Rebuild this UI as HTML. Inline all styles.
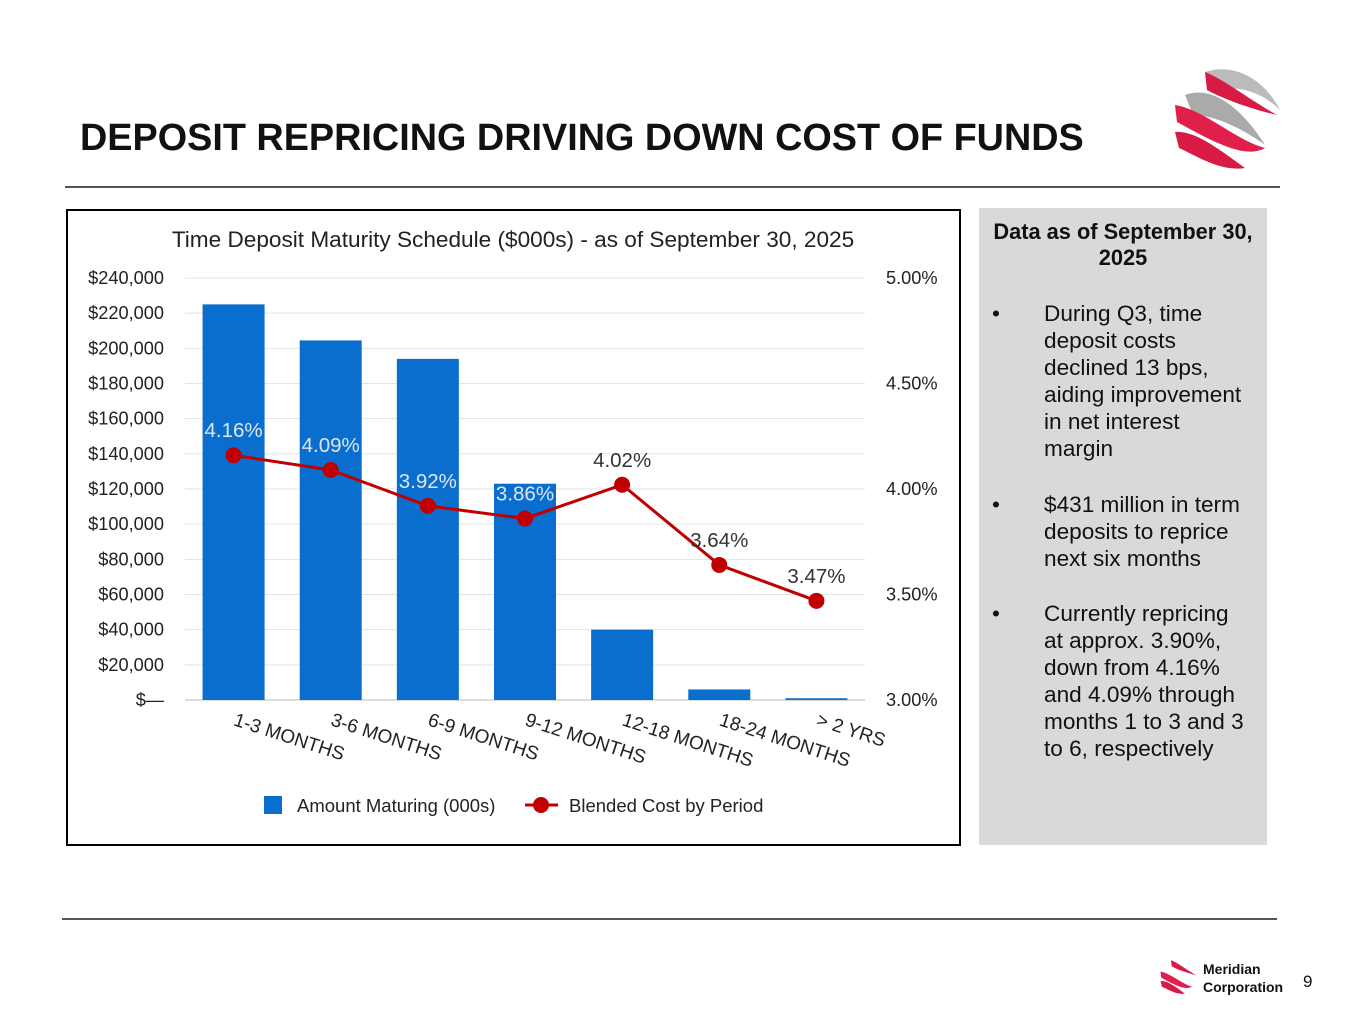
<!DOCTYPE html>
<html><head><meta charset="utf-8"><style>
body{margin:0;width:1365px;height:1024px;background:#fff;font-family:"Liberation Sans",Arial,sans-serif;position:relative;overflow:hidden}
.abs{position:absolute}
.b{position:absolute;left:13px;width:270px;line-height:27px;font-size:22.6px}
.b span{position:absolute;left:0}
.b div{margin-left:52px;width:208px}
</style></head><body>
<div class="abs" style="left:80px;top:117px;font-size:37.8px;font-weight:bold;color:#111">DEPOSIT REPRICING DRIVING DOWN COST OF FUNDS</div>
<svg class="abs" style="left:1165px;top:60px" width="120" height="115" viewBox="0 0 120 115">
<path d="M40 12 C70 2,100 20,115 50 C95 30,70 25,50 30 Z" fill="#bbb"/>
<path d="M40 12 C60 20,85 40,112 55 C90 50,60 40,42 30 Z" fill="#d81b45"/>
<path d="M20 35 C45 25,75 45,100 85 C80 70,50 55,28 55 Z" fill="#aaa"/>
<path d="M10 45 C40 50,70 80,100 88 C80 100,45 80,12 62 Z" fill="#e0204a"/>
<path d="M10 72 C30 70,55 90,80 108 C55 112,30 95,14 88 Z" fill="#d81b45"/>
</svg>
<div class="abs" style="left:65px;top:186px;width:1215px;height:2px;background:#555"></div>
<div class="abs" style="left:66px;top:209px;width:891px;height:633px;border:2px solid #000"></div>
<div class="abs" style="left:979px;top:208px;width:288px;height:637px;background:#d9d9d9;font-size:21px;color:#111">
<div style="text-align:center;font-weight:bold;margin-top:11px;line-height:26px;font-size:21.8px">Data as of September 30,<br>2025</div>
<div class="b" style="top:92px"><span>•</span><div>During Q3, time deposit costs declined 13 bps, aiding improvement in net interest margin</div></div>
<div class="b" style="top:283px"><span>•</span><div>$431 million in term deposits to reprice next six months</div></div>
<div class="b" style="top:392px"><span>•</span><div>Currently repricing at approx. 3.90%, down from 4.16% and 4.09% through months 1 to 3 and 3 to 6, respectively</div></div>
</div>
<div class="abs" style="left:62px;top:918px;width:1215px;height:2px;background:#555"></div>
<svg class="abs" style="left:1157px;top:955px" width="42" height="42" viewBox="0 0 120 115">
<path d="M40 12 C60 20,85 40,112 55 C90 50,60 40,42 30 Z" fill="#d81b45"/>
<path d="M10 45 C40 50,70 80,100 88 C80 100,45 80,12 62 Z" fill="#e0204a"/>
<path d="M10 72 C30 70,55 90,80 108 C55 112,30 95,14 88 Z" fill="#d81b45"/>
</svg>
<div class="abs" style="left:1203px;top:960px;font-size:14px;font-weight:bold;line-height:18px;color:#111">Meridian<br>Corporation</div>
<div class="abs" style="left:1303px;top:972px;font-size:17px;color:#111">9</div>
<svg class="abs" id="chart" style="left:0;top:0" width="1365" height="1024"></svg>
<script>
const categories=["1-3 MONTHS","3-6 MONTHS","6-9 MONTHS","9-12 MONTHS","12-18 MONTHS","18-24 MONTHS","> 2 YRS"];
const amounts=[225000,204500,194000,123000,40000,6000,1000];
const rates=[4.16,4.09,3.92,3.86,4.02,3.64,3.47];
const leftTicks=[0,20000,40000,60000,80000,100000,120000,140000,160000,180000,200000,220000,240000];
const rightTicks=[3.0,3.5,4.0,4.5,5.0];
const NS="http://www.w3.org/2000/svg";
const svg=document.getElementById('chart');
const x0=185,x1=865,yb=700,yt=278;
const yL=v=>yb-(v/240000)*(yb-yt);
const yR=v=>yb-((v-3)/2)*(yb-yt);
const bw=(x1-x0)/categories.length;
const xc=i=>x0+bw*(i+0.5);
function mk(t,a,txt){const e=document.createElementNS(NS,t);for(const k in a)e.setAttribute(k,a[k]);if(txt!=null)e.textContent=txt;svg.appendChild(e);return e;}
let e=mk('text',{x:513,y:247,'font-size':22.6,'text-anchor':'middle',fill:'#222','font-family':'Liberation Sans'},'Time Deposit Maturity Schedule ($000s) - as of September 30, 2025');

leftTicks.forEach(v=>{
 const g=mk('line',{x1:x0,x2:x1,y1:yL(v),y2:yL(v),stroke:v===0?'#bbb':'#e3e3e3','stroke-width':1});
 
 const t=mk('text',{x:164,y:yL(v)+6,'font-size':18.2,'text-anchor':'end',fill:'#222','font-family':'Liberation Sans'},v===0?'$—':'$'+v.toLocaleString('en-US'));
 
});
rightTicks.forEach(v=>{
 const t=mk('text',{x:886,y:yR(v)+6,'font-size':18.2,fill:'#222','font-family':'Liberation Sans'},v.toFixed(2)+'%');
 
});
amounts.forEach((v,i)=>{
 const r=mk('rect',{x:xc(i)-31,y:yL(v),width:62,height:yb-yL(v),fill:'#0a6ece'});
 
});
categories.forEach((c,i)=>{
 const t=mk('text',{x:0,y:0,'font-size':19,fill:'#222','font-family':'Liberation Sans',transform:`translate(${xc(i)-1},${725}) rotate(18)`},c);
 
});
const pts=rates.map((v,i)=>xc(i)+','+yR(v)).join(' ');
const pl=mk('polyline',{points:pts,fill:'none',stroke:'#c00000','stroke-width':3});

rates.forEach((v,i)=>{
 const c=mk('circle',{cx:xc(i),cy:yR(v),r:8,fill:'#c00000'});
 
 const inBar=yR(v)-18>yL(amounts[i]);
 const t=mk('text',{x:xc(i),y:yR(v)-18,'font-size':20.5,'text-anchor':'middle',fill:inBar?'#dfe6ee':'#333','font-family':'Liberation Sans'},v.toFixed(2)+'%');
 
});
let lr=mk('rect',{x:264,y:796,width:18,height:18,fill:'#0a6ece'});

let lt=mk('text',{x:297,y:812,'font-size':18.5,fill:'#222','font-family':'Liberation Sans'},'Amount Maturing (000s)');

let ll=mk('line',{x1:525,x2:558,y1:805,y2:805,stroke:'#c00000','stroke-width':3});

let lc=mk('circle',{cx:541,cy:805,r:8,fill:'#c00000'});

let lt2=mk('text',{x:569,y:812,'font-size':18.5,fill:'#222','font-family':'Liberation Sans'},'Blended Cost by Period');

</script>
</body></html>
